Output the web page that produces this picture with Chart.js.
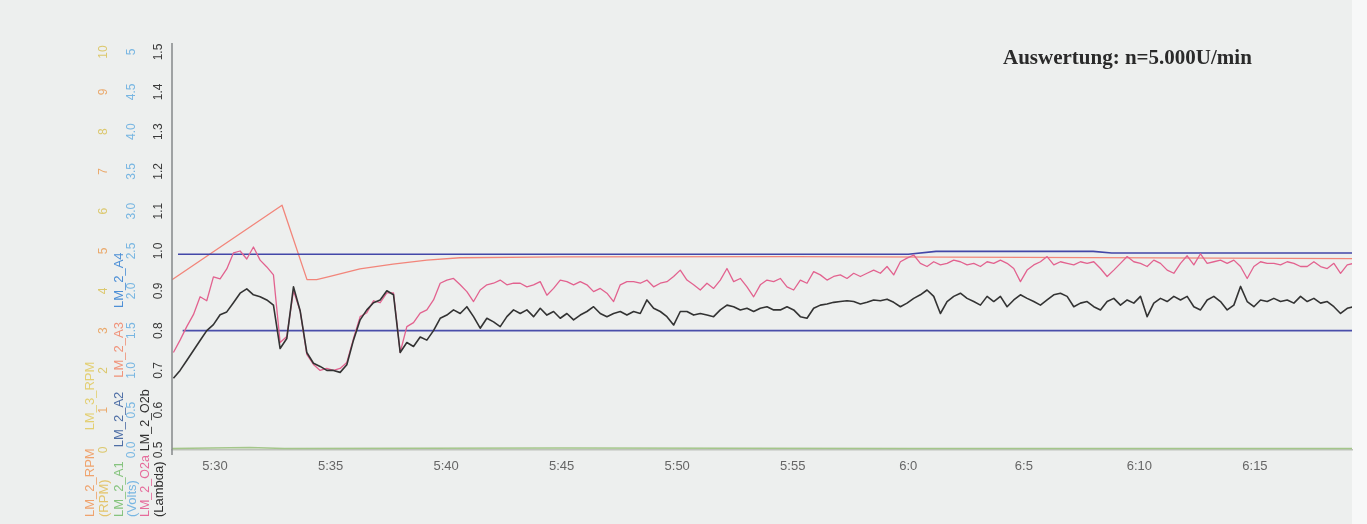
<!DOCTYPE html>
<html lang="de">
<head>
  <meta charset="UTF-8" />
  <title>Auswertung: n=5.000U/min</title>
  <style>
    html, body {
      margin: 0;
      padding: 0;
      background: #edefee;
    }
    .chart-box {
      position: relative;
      width: 1367px;
      height: 524px;
    }
  </style>
</head>
<body>
  <div class="chart-box"><canvas id="lambdaChart"></canvas></div>

  <script src="https://cdn.jsdelivr.net/npm/chart.js"></script>
  <script>
    // Zeitachse: Minuten ab 5:00
    const xTickValues = [30, 35, 40, 45, 50, 55, 60, 65, 70, 75];
    const xTickLabels = ['5:30', '5:35', '5:40', '5:45', '5:50', '5:55', '6:0', '6:5', '6:10', '6:15'];

    const lambdaTicks = [0.5, 0.6, 0.7, 0.8, 0.9, 1.0, 1.1, 1.2, 1.3, 1.4, 1.5];
    const lambdaTickLabels = ['0.5', '0.6', '0.7', '0.8', '0.9', '1.0', '1.1', '1.2', '1.3', '1.4', '1.5'];
    const voltTicks = [0, 0.5, 1, 1.5, 2, 2.5, 3, 3.5, 4, 4.5, 5];
    const voltTickLabels = ['0.0', '0.5', '1.0', '1.5', '2.0', '2.5', '3.0', '3.5', '4.0', '4.5', '5'];
    const rpmTicks = [0, 1, 2, 3, 4, 5, 6, 7, 8, 9, 10];
    const rpmTickLabels = ['0', '1', '2', '3', '4', '5', '6', '7', '8', '9', '10'];

    // Logger-Takt der Lambda-Kanaele
    const sampleStart = 28.2;   // min
    const sampleStep = 0.2886;  // min (~17 s)

    // LM_2_O2a (Lambda, pink)
    const o2a = [
      0.745, 0.776, 0.81, 0.84, 0.885, 0.875, 0.935, 0.93, 0.955, 0.995,
      1.0, 0.98, 1.01, 0.977, 0.96, 0.94, 0.77, 0.785, 0.90, 0.85,
      0.74, 0.715, 0.70, 0.705, 0.70, 0.705, 0.72, 0.78, 0.835, 0.845,
      0.875, 0.87, 0.895, 0.895, 0.745, 0.81, 0.82, 0.844, 0.852, 0.877,
      0.919, 0.927, 0.931, 0.915, 0.898, 0.873, 0.902, 0.915, 0.919, 0.927,
      0.915, 0.919, 0.919, 0.910, 0.915, 0.923, 0.889, 0.906, 0.927, 0.923,
      0.915, 0.923, 0.915, 0.898, 0.906, 0.894, 0.873, 0.915, 0.923, 0.923,
      0.919, 0.927, 0.910, 0.919, 0.923, 0.936, 0.952, 0.927, 0.915, 0.902,
      0.919, 0.906, 0.927, 0.956, 0.923, 0.931, 0.910, 0.885, 0.915, 0.927,
      0.923, 0.931, 0.910, 0.902, 0.927, 0.919, 0.948, 0.940, 0.927, 0.936,
      0.940, 0.931, 0.944, 0.936, 0.944, 0.952, 0.944, 0.961, 0.940,
      0.973, 0.982, 0.990, 0.969, 0.961, 0.973, 0.965, 0.969, 0.977, 0.973,
      0.965, 0.969, 0.961, 0.973, 0.969, 0.977, 0.969, 0.956, 0.923, 0.952,
      0.965, 0.973, 0.986, 0.965, 0.973, 0.969, 0.965, 0.973, 0.969, 0.973,
      0.956, 0.936, 0.952, 0.969, 0.986, 0.973, 0.969, 0.961, 0.977, 0.969,
      0.952, 0.944, 0.969, 0.988, 0.965, 0.993, 0.969, 0.973, 0.977, 0.969,
      0.977, 0.961, 0.931, 0.961, 0.973, 0.969, 0.969, 0.965, 0.973, 0.969,
      0.961, 0.961, 0.973, 0.961, 0.956, 0.969, 0.944, 0.965, 0.969
    ];

    // LM_2_O2b (Lambda, schwarz)
    const o2b = [
      0.68, 0.70, 0.725, 0.75, 0.775, 0.80, 0.815, 0.84, 0.847, 0.87,
      0.894, 0.905, 0.89, 0.885, 0.877, 0.864, 0.755, 0.78, 0.91, 0.85,
      0.745, 0.718, 0.71, 0.70, 0.70, 0.695, 0.714, 0.776, 0.827, 0.852,
      0.87, 0.877, 0.90, 0.89, 0.745, 0.77, 0.76, 0.784, 0.776, 0.80,
      0.831, 0.839, 0.852, 0.843, 0.860, 0.835, 0.806, 0.831, 0.822, 0.810,
      0.835, 0.852, 0.843, 0.852, 0.835, 0.856, 0.839, 0.848, 0.831, 0.843,
      0.827, 0.839, 0.848, 0.860, 0.843, 0.835, 0.843, 0.848, 0.839, 0.848,
      0.843, 0.877, 0.856, 0.848, 0.835, 0.814, 0.848, 0.848, 0.839, 0.843,
      0.839, 0.835, 0.852, 0.864, 0.860, 0.852, 0.856, 0.848, 0.856, 0.860,
      0.852, 0.852, 0.860, 0.852, 0.835, 0.831, 0.856, 0.864, 0.867, 0.871,
      0.873, 0.875, 0.873, 0.867, 0.871, 0.877, 0.875, 0.879, 0.871,
      0.860, 0.869, 0.881, 0.890, 0.902, 0.886, 0.843, 0.873, 0.886, 0.894,
      0.881, 0.873, 0.864, 0.886, 0.873, 0.886, 0.860, 0.877, 0.890, 0.881,
      0.873, 0.864, 0.877, 0.890, 0.894, 0.886, 0.860, 0.869, 0.873, 0.860,
      0.852, 0.873, 0.881, 0.864, 0.877, 0.869, 0.886, 0.835, 0.869, 0.881,
      0.873, 0.886, 0.877, 0.886, 0.860, 0.852, 0.877, 0.886, 0.873, 0.852,
      0.864, 0.911, 0.873, 0.860, 0.877, 0.873, 0.881, 0.873, 0.877, 0.869,
      0.886, 0.873, 0.881, 0.869, 0.873, 0.860, 0.843, 0.856, 0.860
    ];

    // Analogkanaele (Volt)
    const a3Time  = [28.14, 32.9, 33.98, 34.4, 34.98, 36.27, 37.7, 39.17, 40.6, 45, 55, 65, 79.2];
    const a3Volts = [2.14, 3.075, 2.14, 2.14, 2.18, 2.275, 2.335, 2.385, 2.415, 2.425, 2.43, 2.42, 2.405];

    const a4Time  = [28.4, 60.0, 61.2, 68.0, 68.8, 79.2];
    const a4Volts = [2.46, 2.46, 2.495, 2.495, 2.475, 2.475];

    const a2Time  = [28.6, 79.2];
    const a2Volts = [1.5, 1.5];

    const a1Time  = [28.14, 31.5, 33.0, 45.0, 60.0, 79.2];
    const a1Volts = [0.02, 0.03, 0.02, 0.025, 0.02, 0.02];

    const pair = (xs, ys) => xs.map((x, i) => ({ x: x, y: ys[i] }));
    const sampled = ys => ys.map((y, i) => ({ x: sampleStart + i * sampleStep, y: y }));

    // Hintergrund wie der Scan
    const scanBackground = {
      id: 'scanBackground',
      beforeDraw(chart) {
        const c = chart.ctx;
        c.save();
        c.fillStyle = '#edefee';
        c.fillRect(0, 0, chart.width, chart.height);
        c.fillStyle = '#f7f8f8';
        c.fillRect(1352, 0, chart.width - 1352, chart.height);
        c.restore();
      }
    };

    function rotText(c, text, x, y, align, color) {
      c.save();
      c.translate(x, y);
      c.rotate(-Math.PI / 2);
      c.textAlign = align;
      c.textBaseline = 'middle';
      c.fillStyle = color;
      c.fillText(text, 0, 0);
      c.restore();
    }

    // mehrfarbige Kanalnamen, von unten nach oben
    function rotParts(c, parts, x, y, gap) {
      let pos = y;
      parts.forEach(p => {
        rotText(c, p[0], x, pos, 'left', p[1]);
        pos -= c.measureText(p[0]).width + gap;
      });
    }

    // gedrehte Achsbeschriftungen links + Titel
    const sideAxes = {
      id: 'sideAxes',
      afterDraw(chart) {
        const c = chart.ctx;
        const area = chart.chartArea;
        const s = chart.scales;
        const base = 517;
        const sans = '"Liberation Sans", Arial, sans-serif';

        c.save();
        c.strokeStyle = '#85888a';
        c.lineWidth = 1.5;
        c.beginPath();
        c.moveTo(area.left, area.top - 9);
        c.lineTo(area.left, area.bottom + 5);
        c.stroke();

        // RPM
        c.font = '13px ' + sans;
        rotParts(c, [['LM_2_RPM', '#efa36e'], ['LM_3_RPM', '#e3cf72']], 90, base, 18);
        rotText(c, '(RPM)', 104, base, 'left', '#e3c46c');
        c.font = '12px ' + sans;
        rpmTicks.forEach((v, i) => {
          rotText(c, rpmTickLabels[i], 104, s.yRpm.getPixelForValue(v), 'center', i % 2 ? '#eaa96c' : '#dcc86e');
        });

        // Volt
        c.font = '13px ' + sans;
        rotParts(c, [['LM_2_A1', '#86c47e'], ['LM_2_A2', '#4f6fa6'], ['LM_2_A3', '#f0937a'], ['LM_2_A4', '#4d8fd6']], 119, base, 14);
        rotText(c, '(Volts)', 132, base, 'left', '#78b6e2');
        c.font = '12px ' + sans;
        voltTicks.forEach((v, i) => {
          rotText(c, voltTickLabels[i], 132, s.yVolts.getPixelForValue(v), 'center', '#78b6e2');
        });

        // Lambda
        c.font = '12.5px ' + sans;
        rotParts(c, [['LM_2_O2a', '#e66b9b'], ['LM_2_O2b', '#2f2f2f']], 146, base, 4);
        c.font = '13px ' + sans;
        rotText(c, '(Lambda)', 159, base, 'left', '#2f2f2f');
        c.font = '12px ' + sans;
        lambdaTicks.forEach((v, i) => {
          rotText(c, lambdaTickLabels[i], 159, s.y.getPixelForValue(v), 'center', '#3a3a3a');
        });

        c.font = 'bold 21px "Liberation Serif", "DejaVu Serif", serif';
        c.fillStyle = '#2a2a2a';
        c.textAlign = 'left';
        c.textBaseline = 'alphabetic';
        c.fillText('Auswertung: n=5.000U/min', 1003, 64);
        c.restore();
      }
    };

    const ctx = document.getElementById('lambdaChart').getContext('2d');

    const lambdaChart = new Chart(ctx, {
      type: 'line',
      data: {
        datasets: [
          {
            label: 'LM_2_O2b',
            data: sampled(o2b),
            yAxisID: 'y',
            borderColor: '#333333',
            borderWidth: 1.6,
            order: 0
          },
          {
            label: 'LM_2_O2a',
            data: sampled(o2a),
            yAxisID: 'y',
            borderColor: '#e2628f',
            borderWidth: 1.3,
            order: 1
          },
          {
            label: 'LM_2_A4',
            data: pair(a4Time, a4Volts),
            yAxisID: 'yVolts',
            borderColor: '#4347a8',
            borderWidth: 1.6,
            order: 2
          },
          {
            label: 'LM_2_A3',
            data: pair(a3Time, a3Volts),
            yAxisID: 'yVolts',
            borderColor: '#f2857a',
            borderWidth: 1.3,
            order: 3
          },
          {
            label: 'LM_2_A2',
            data: pair(a2Time, a2Volts),
            yAxisID: 'yVolts',
            borderColor: '#4a4eaa',
            borderWidth: 1.6,
            order: 4
          },
          {
            label: 'LM_2_A1',
            data: pair(a1Time, a1Volts),
            yAxisID: 'yVolts',
            borderColor: '#a4c68a',
            borderWidth: 1.5,
            order: 5
          }
        ]
      },
      options: {
        responsive: true,
        maintainAspectRatio: false,
        animation: false,
        devicePixelRatio: 1,
        layout: {
          padding: { left: 172, right: 15, top: 52, bottom: 0 }
        },
        elements: {
          point: { radius: 0 },
          line: { tension: 0, borderJoinStyle: 'round', fill: false }
        },
        scales: {
          x: {
            type: 'linear',
            min: 28.139,
            max: 79.2,
            afterBuildTicks: scale => {
              scale.ticks = xTickValues.map(v => ({ value: v }));
            },
            afterFit: scale => {
              scale.height = 74;
            },
            ticks: {
              autoSkip: false,
              maxRotation: 0,
              padding: 9,
              color: '#666',
              font: { family: '"Liberation Sans", Arial, sans-serif', size: 13 },
              callback: value => {
                const i = xTickValues.indexOf(value);
                return i >= 0 ? xTickLabels[i] : '';
              }
            },
            grid: { display: false, drawTicks: false },
            border: { display: true, color: '#bfc3bb', width: 1.5 }
          },
          y: {
            type: 'linear',
            axis: 'y',
            display: false,
            min: 0.5,
            max: 1.5
          },
          yVolts: {
            type: 'linear',
            axis: 'y',
            display: false,
            min: 0,
            max: 5
          },
          yRpm: {
            type: 'linear',
            axis: 'y',
            display: false,
            min: 0,
            max: 10
          }
        },
        plugins: {
          legend: { display: false },
          tooltip: { enabled: false }
        }
      },
      plugins: [scanBackground, sideAxes]
    });
  </script>
</body>
</html>
